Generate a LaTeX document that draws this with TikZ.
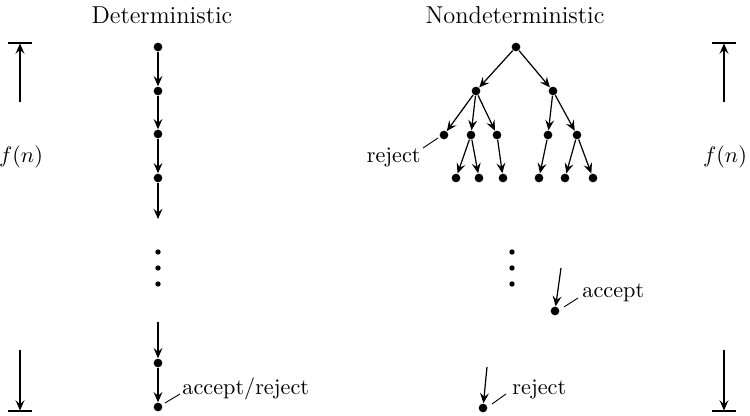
\documentclass[tikz,border=0pt]{standalone}
\usetikzlibrary{arrows.meta}
\begin{document}
\begin{tikzpicture}[x=0.45pt,y=-0.45pt,
  dot/.style={circle,fill=black,inner sep=0pt,minimum size=3.9pt},
  sdot/.style={circle,fill=black,inner sep=0pt,minimum size=2.4pt},
  arr/.style={-{Stealth[length=4.6pt,width=4pt,inset=1.7pt]},line width=0.55pt},
  lbl/.style={font=\fontsize{10}{12}\selectfont,inner sep=0pt},
  ttl/.style={font=\fontsize{11}{13}\selectfont,inner sep=0pt},
  tick/.style={line width=0.55pt}]
\useasboundingbox (0,0) rectangle (750,416);
% titles
\node[ttl] (tD) at (162,15) {Deterministic};
\node[ttl] (tN) at (515,15) {Nondeterministic};
% left bracket
\coordinate (lt1) at (8,43); \coordinate (lt2) at (32,43);
\coordinate (lb1) at (8,411); \coordinate (lb2) at (32,411);
\coordinate (lu0) at (20,102); \coordinate (lu1) at (20,43.5);
\coordinate (ld0) at (20,350); \coordinate (ld1) at (20,410.5);
\draw[tick] (lt1) -- (lt2);
\draw[tick] (lb1) -- (lb2);
\draw[arr] (lu0) -- (lu1);
\draw[arr] (ld0) -- (ld1);
\node[lbl] (lf) at (21,157) {$f(n)$};
% right bracket
\coordinate (rt1) at (712,43); \coordinate (rt2) at (736,43);
\coordinate (rb1) at (712,411); \coordinate (rb2) at (736,411);
\coordinate (ru0) at (724,102); \coordinate (ru1) at (724,43.5);
\coordinate (rd0) at (724,350); \coordinate (rd1) at (724,410.5);
\draw[tick] (rt1) -- (rt2);
\draw[tick] (rb1) -- (rb2);
\draw[arr] (ru0) -- (ru1);
\draw[arr] (rd0) -- (rd1);
\node[lbl] (rf) at (725,157) {$f(n)$};
% deterministic chain
\node[dot] (d1) at (158,47) {};
\node[dot] (d2) at (158,91) {};
\node[dot] (d3) at (158,134) {};
\node[dot] (d4) at (158,178) {};
\coordinate (d5) at (158,219);
\node[sdot] (e1) at (158,252) {};
\node[sdot] (e2) at (158,268) {};
\node[sdot] (e3) at (158,284) {};
\coordinate (d6) at (158,322);
\node[dot] (d7) at (158,363) {};
\node[dot] (d8) at (158,407) {};
\draw[arr] (d1) -- (d2);
\draw[arr] (d2) -- (d3);
\draw[arr] (d3) -- (d4);
\draw[arr] (d4) -- (d5);
\draw[arr] (d6) -- (d7);
\draw[arr] (d7) -- (d8);
\coordinate (da) at (165,403);
\coordinate (db) at (180,394);
\draw[line width=0.4pt] (da) -- (db);
\node[lbl,anchor=west] (lar) at (182,389) {accept/reject};
% nondeterministic tree
\node[dot] (r) at (516,47) {};
\node[dot] (a) at (476,91) {};
\node[dot] (b) at (553,91) {};
\node[dot] (a1) at (444,135) {};
\node[dot] (a2) at (471,135) {};
\node[dot] (a3) at (497,135) {};
\node[dot] (b1) at (548,135) {};
\node[dot] (b2) at (577,135) {};
\node[dot] (a21) at (456,178) {};
\node[dot] (a22) at (479,178) {};
\node[dot] (a31) at (503,178) {};
\node[dot] (b11) at (539,178) {};
\node[dot] (b21) at (565,178) {};
\node[dot] (b22) at (593,178) {};
\foreach \p/\c in {r/a,r/b,a/a1,a/a2,a/a3,b/b1,b/b2,a2/a21,a2/a22,a3/a31,b1/b11,b2/b21,b2/b22}
  \draw[arr] (\p) -- (\c);
\coordinate (ra) at (438,138);
\coordinate (rb) at (423,148);
\draw[line width=0.4pt] (ra) -- (rb);
\node[lbl,anchor=east] (rj1) at (421,157) {reject};
% ellipsis
\node[sdot] (n1) at (512,252) {};
\node[sdot] (n2) at (512,268) {};
\node[sdot] (n3) at (512,284) {};
% accept
\coordinate (ac0) at (561,268);
\node[dot] (ac) at (555,311) {};
\draw[arr] (ac0) -- (ac);
\coordinate (aca) at (564,307);
\coordinate (acb) at (578,298);
\draw[line width=0.4pt] (aca) -- (acb);
\node[lbl,anchor=west] (acl) at (582,293) {accept};
% reject
\coordinate (rj0) at (487,367);
\node[dot] (rj) at (483,408) {};
\draw[arr] (rj0) -- (rj);
\coordinate (rja) at (492,404);
\coordinate (rjb) at (506,394);
\draw[line width=0.4pt] (rja) -- (rjb);
\node[lbl,anchor=west] (rjl) at (512,389) {reject};
\end{tikzpicture}
\end{document}
